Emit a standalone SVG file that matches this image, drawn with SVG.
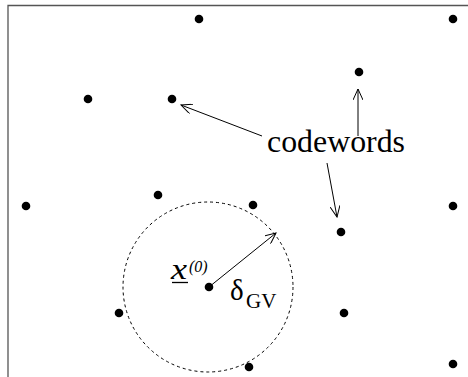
<svg xmlns="http://www.w3.org/2000/svg" width="468" height="377" viewBox="0 0 468 377">
<style>
.dot{fill:#000}
.conn{stroke:#000;stroke-width:1;fill:none;marker-end:url(#ah)}
.txt{font-family:"Liberation Serif",serif;fill:#000}
</style>
<defs>
<marker id="ah" viewBox="0 0 12 10" refX="11" refY="5" markerWidth="12" markerHeight="10" markerUnits="userSpaceOnUse" orient="auto">
<path d="M0,0 L11,5 L0,10" fill="none" stroke="#000" stroke-width="1"/>
</marker>
</defs>
<rect width="468" height="377" fill="#fff"/>
<path d="M8,377 V5.5 H468" fill="none" stroke="#555" stroke-width="1.3"/>
<g id="sphere">
<circle cx="208" cy="287" r="85" fill="none" stroke="#000" stroke-width="1" stroke-dasharray="3,3"/>
</g>
<g id="dots">
<circle class="dot" cx="199" cy="19" r="4.3"/>
<circle class="dot" cx="453" cy="19" r="4.3"/>
<circle class="dot" cx="359" cy="72" r="4.3"/>
<circle class="dot" cx="88" cy="99" r="4.3"/>
<circle class="dot" cx="172" cy="99" r="4.3"/>
<circle class="dot" cx="158" cy="195" r="4.3"/>
<circle class="dot" cx="26" cy="206" r="4.3"/>
<circle class="dot" cx="253" cy="205" r="4.3"/>
<circle class="dot" cx="453" cy="206" r="4.3"/>
<circle class="dot" cx="341" cy="232" r="4.3"/>
<circle class="dot" cx="209" cy="287" r="4.3"/>
<circle class="dot" cx="119" cy="313" r="4.3"/>
<circle class="dot" cx="344" cy="313" r="4.3"/>
<circle class="dot" cx="249" cy="367" r="4.3"/>
<circle class="dot" cx="453" cy="364" r="4.3"/>
</g>
<g id="connectors">
<line class="conn" x1="262" y1="136" x2="181" y2="105"/>
<line class="conn" x1="358" y1="136" x2="358" y2="89"/>
<line class="conn" x1="327" y1="163" x2="337" y2="217"/>
<line class="conn" x1="209" y1="287" x2="276" y2="233"/>
</g>
<g id="label-codewords">
<text class="txt" x="267" y="152" font-size="31" textLength="138" lengthAdjust="spacingAndGlyphs">codewords</text>
</g>
<g id="label-x0">
<text class="txt" x="171" y="279" font-size="29" font-style="italic" textLength="16" lengthAdjust="spacingAndGlyphs">x</text>
<text class="txt" x="189" y="272" font-size="16" font-style="italic">(0)</text>
<line x1="172" y1="282.5" x2="188" y2="282.5" stroke="#000" stroke-width="1.3"/>
</g>
<g id="label-delta">
<text class="txt" x="230" y="300" font-size="29">δ</text>
<text class="txt" x="246" y="308" font-size="21">GV</text>
</g>
</svg>
